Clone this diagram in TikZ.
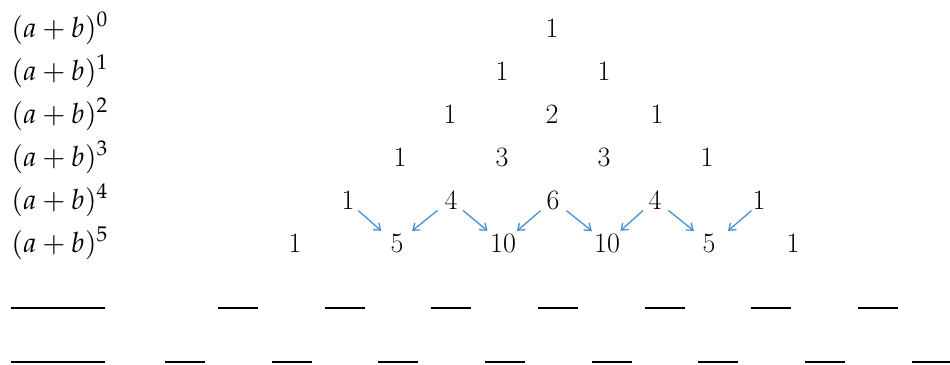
\documentclass[tikz,border=0pt]{standalone}
\usepackage{mathpazo}
\usetikzlibrary{arrows.meta,calc}
\definecolor{arrblue}{HTML}{4A8FD6}
\tikzset{
  num/.style={anchor=base,inner sep=0pt,text=black,font=\fontsize{28}{34}\selectfont},
  lbl/.style={anchor=base west,inner sep=0pt,text=black,font=\fontsize{28}{34}\selectfont},
  arr/.style={draw=arrblue,line width=1.3pt,-{Straight Barb[length=6pt,width=9pt]}},
  blank/.style={draw=black,line width=2pt}
}
\begin{document}
\begin{tikzpicture}[x=1pt,y=-1pt]
\useasboundingbox (0,0) rectangle (950,364);
% labels
\foreach \n/\y in {0/37,1/80,2/123,3/166,4/209,5/252}
  \node[lbl] (L\n) at (11,\y) {$(a+b)^{\n}$};
% row 0
\node[num] (r0a) at (552,37) {1};
% row 1
\node[num] (r1a) at (502,80) {1};
\node[num] (r1b) at (604,80) {1};
% row 2
\node[num] (r2a) at (450,123) {1};
\node[num] (r2b) at (552,123) {2};
\node[num] (r2c) at (657,123) {1};
% row 3
\node[num] (r3a) at (400,166) {1};
\node[num] (r3b) at (502,166) {3};
\node[num] (r3c) at (604,166) {3};
\node[num] (r3d) at (707,166) {1};
% row 4
\node[num] (r4a) at (348,209) {1};
\node[num] (r4b) at (451,209) {4};
\node[num] (r4c) at (553,209) {6};
\node[num] (r4d) at (655,209) {4};
\node[num] (r4e) at (759,209) {1};
% row 5
\node[num] (r5a) at (295,252) {1};
\node[num] (r5b) at (397,252) {5};
\node[num] (r5c) at (503,252) {10};
\node[num] (r5d) at (607,252) {10};
\node[num] (r5e) at (709,252) {5};
\node[num] (r5f) at (793,252) {1};
% arrows
\foreach \a/\b/\dx in {r4a/r5b/-2,r4b/r5b/0,r4b/r5c/-1,r4c/r5c/0,r4c/r5d/0,r4d/r5d/0,r4d/r5e/0,r4e/r5e/5}
  \draw[arr] ($(\a.center)!0.25!(\b.center)+(\dx pt,0)$) -- ($(\a.center)!0.72!(\b.center)+(\dx pt,0)$);
% blanks
\draw[blank] (11,308) -- (105,308);
\foreach \k in {0,...,6}
  \draw[blank] ({218+106.67*\k},308) -- ({258+106.67*\k},308);
\draw[blank] (11,361.5) -- (105,361.5);
\foreach \k in {0,...,7}
  \draw[blank] ({165+106.67*\k},361.5) -- ({205+106.67*\k},361.5);
\end{tikzpicture}
\end{document}
